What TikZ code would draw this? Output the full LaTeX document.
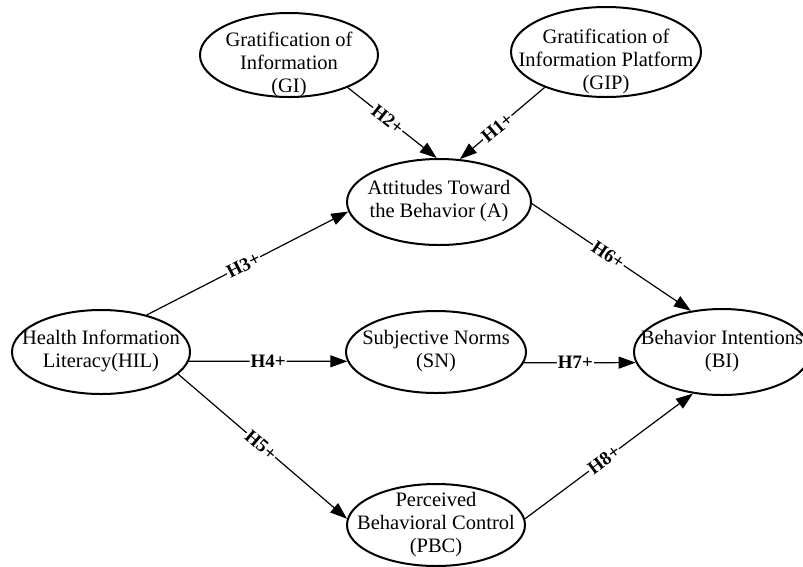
\documentclass[tikz,border=0pt]{standalone}
\usepackage{fontspec}
\setmainfont{Liberation Serif}
\usetikzlibrary{arrows.meta,shapes.geometric}
\newcommand\ctext[2][-5pt]{\makebox[0pt]{\raisebox{#1}[0pt][0pt]{\begin{tabular}{@{}c@{}}#2\end{tabular}}}}

\begin{document}
\begin{tikzpicture}[x=1pt, y=-1pt,
            > = {Triangle[length=17pt, width=12pt]},
every edge/.append style = {->, draw=black, line width=1.2pt},
 construct/.style = {ellipse, draw, line width=2pt, inner sep=0pt, minimum width=178pt, minimum height=84pt, font=\fontsize{20.5}{23}\selectfont},
       hyp/.style = {sloped, fill=white, inner sep=1pt, font=\fontsize{19}{21}\selectfont\bfseries}
]
\useasboundingbox (0,0) rectangle (803,566);
\node (GI)  [construct] at (289,55) {\ctext[-15pt]{Gratification of\\Information\\(GI)}};
\node (GIP) [construct, minimum width=190pt, minimum height=90pt] at (606,52) {\ctext[-15pt]{Gratification of\\Information Platform\\(GIP)}};
\node (A)   [construct, minimum width=184pt, minimum height=86pt] at (439,202) {\ctext{Attitudes Toward\\the Behavior (A)}};
\node (HIL) [construct] at (101,352) {\ctext{Health Information\\Literacy(HIL)}};
\node (SN)  [construct, minimum width=180pt, minimum height=82pt] at (436,352) {\ctext{Subjective Norms\\(SN)}};
\node (BI)  [construct, minimum width=176pt, minimum height=86pt] at (722,352) {\ctext{Behavior Intentions\\(BI)}};
\node (PBC) [construct, minimum height=82pt] at (436,525) {\ctext{Perceived\\Behavioral Control\\(PBC)}};
\path
        (GIP.-150) edge node[hyp, pos=.56] {H1+} (A.64)
        (GI.-29)   edge node[hyp, pos=.45] {H2+} (A.93)
        (HIL.39)   edge node[hyp, pos=.48] {H3+} (A.-174)
        (HIL.-6)   edge node[hyp, pos=.5]  {H4+} (SN.186)
        (HIL.-16)  edge node[hyp, pos=.49] {H5+} (PBC.176)
        (A.-1)     edge node[hyp, pos=.48] {H6+} (BI.127)
        (SN.-7)    edge node[hyp, pos=.46] {H7+} (BI.187)
        (PBC.4)    edge node[hyp, pos=.47] {H8+} (BI.235);

\end{tikzpicture}
\end{document}
